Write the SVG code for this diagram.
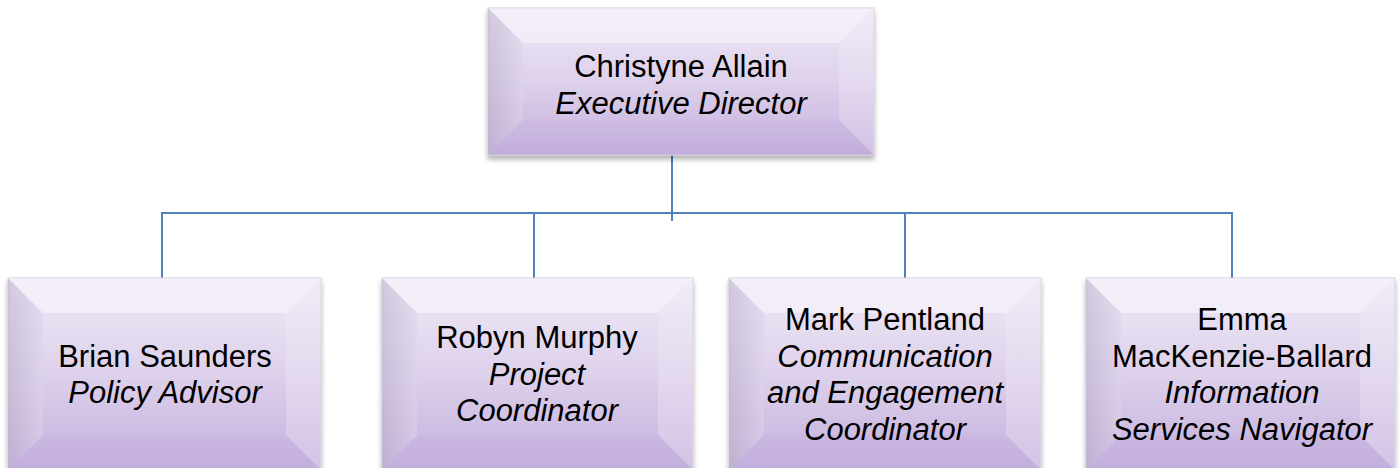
<svg xmlns="http://www.w3.org/2000/svg" width="1400" height="468" viewBox="0 0 1400 468">
<defs>
<linearGradient id="face" x1="0" y1="0" x2="0" y2="1">
<stop offset="0" stop-color="#f0eaf7"/>
<stop offset="0.5" stop-color="#ddd1eb"/>
<stop offset="1" stop-color="#c5b0de"/>
</linearGradient>
<linearGradient id="lside" x1="0" y1="0" x2="1" y2="0">
<stop offset="0" stop-color="#b9aec8"/>
<stop offset="1" stop-color="#ddd3ea"/>
</linearGradient>
<linearGradient id="tside" x1="0" y1="0" x2="0" y2="1">
<stop offset="0" stop-color="#f9f7fc"/>
<stop offset="1" stop-color="#ffffff"/>
</linearGradient>
<filter id="sh" x="-5%" y="-5%" width="110%" height="115%">
<feDropShadow dx="0" dy="4" stdDeviation="2.5" flood-color="#000" flood-opacity="0.3"/>
</filter>
<style>
.t{font-family:"Liberation Sans",Arial,sans-serif;font-size:31px;fill:#000;text-anchor:middle}
.i{font-style:italic}
.c{fill:none;stroke:#4f81bd;stroke-width:2}
.face{fill:url(#face);stroke:#d3cbdd;stroke-width:1}
.l{fill:url(#lside);opacity:0.55}
.tp{fill:url(#tside);opacity:0.4}
.r{fill:#f4f0f9;opacity:0.3}
.b{fill:#b8a3d4;opacity:0.15}
</style>
</defs>
<g id="connectors">
<line class="c" x1="672" y1="155" x2="672" y2="221"/>
<polyline class="c" points="162,278 162,213 1232,213 1232,278"/>
<line class="c" x1="534" y1="213" x2="534" y2="278"/>
<line class="c" x1="905" y1="213" x2="905" y2="278"/>
</g>
<g id="node-christyne">
<rect class="face" x="488" y="8" width="386" height="147" filter="url(#sh)"/>
<polygon class="l" points="488,8 523,43 523,120 488,155"/>
<polygon class="tp" points="488,8 874,8 839,43 523,43"/>
<polygon class="r" points="874,8 874,155 839,120 839,43"/>
<polygon class="b" points="488,155 523,120 839,120 874,155"/>
<text class="t" x="681" y="77">Christyne Allain</text>
<text class="t i" x="681" y="114">Executive Director</text>
</g>
<g id="node-brian">
<rect class="face" x="8" y="278" width="313" height="192" filter="url(#sh)"/>
<polygon class="l" points="8,278 43,313 43,435 8,470"/>
<polygon class="tp" points="8,278 321,278 286,313 43,313"/>
<polygon class="r" points="321,278 321,470 286,435 286,313"/>
<polygon class="b" points="8,470 43,435 286,435 321,470"/>
<text class="t" x="165" y="367">Brian Saunders</text>
<text class="t i" x="165" y="403">Policy Advisor</text>
</g>
<g id="node-robyn">
<rect class="face" x="382" y="278" width="311" height="192" filter="url(#sh)"/>
<polygon class="l" points="382,278 417,313 417,435 382,470"/>
<polygon class="tp" points="382,278 693,278 658,313 417,313"/>
<polygon class="r" points="693,278 693,470 658,435 658,313"/>
<polygon class="b" points="382,470 417,435 658,435 693,470"/>
<text class="t" x="537" y="348">Robyn Murphy</text>
<text class="t i" x="537" y="385">Project</text>
<text class="t i" x="537" y="421">Coordinator</text>
</g>
<g id="node-mark">
<rect class="face" x="729" y="278" width="312" height="192" filter="url(#sh)"/>
<polygon class="l" points="729,278 764,313 764,435 729,470"/>
<polygon class="tp" points="729,278 1041,278 1006,313 764,313"/>
<polygon class="r" points="1041,278 1041,470 1006,435 1006,313"/>
<polygon class="b" points="729,470 764,435 1006,435 1041,470"/>
<text class="t" x="885" y="330">Mark Pentland</text>
<text class="t i" x="885" y="367">Communication</text>
<text class="t i" x="885" y="403">and Engagement</text>
<text class="t i" x="885" y="440">Coordinator</text>
</g>
<g id="node-emma">
<rect class="face" x="1086" y="278" width="309" height="192" filter="url(#sh)"/>
<polygon class="l" points="1086,278 1121,313 1121,435 1086,470"/>
<polygon class="tp" points="1086,278 1395,278 1360,313 1121,313"/>
<polygon class="r" points="1395,278 1395,470 1360,435 1360,313"/>
<polygon class="b" points="1086,470 1121,435 1360,435 1395,470"/>
<text class="t" x="1242" y="330">Emma</text>
<text class="t" x="1242" y="367">MacKenzie-Ballard</text>
<text class="t i" x="1242" y="403">Information</text>
<text class="t i" x="1242" y="440">Services Navigator</text>
</g>
</svg>
